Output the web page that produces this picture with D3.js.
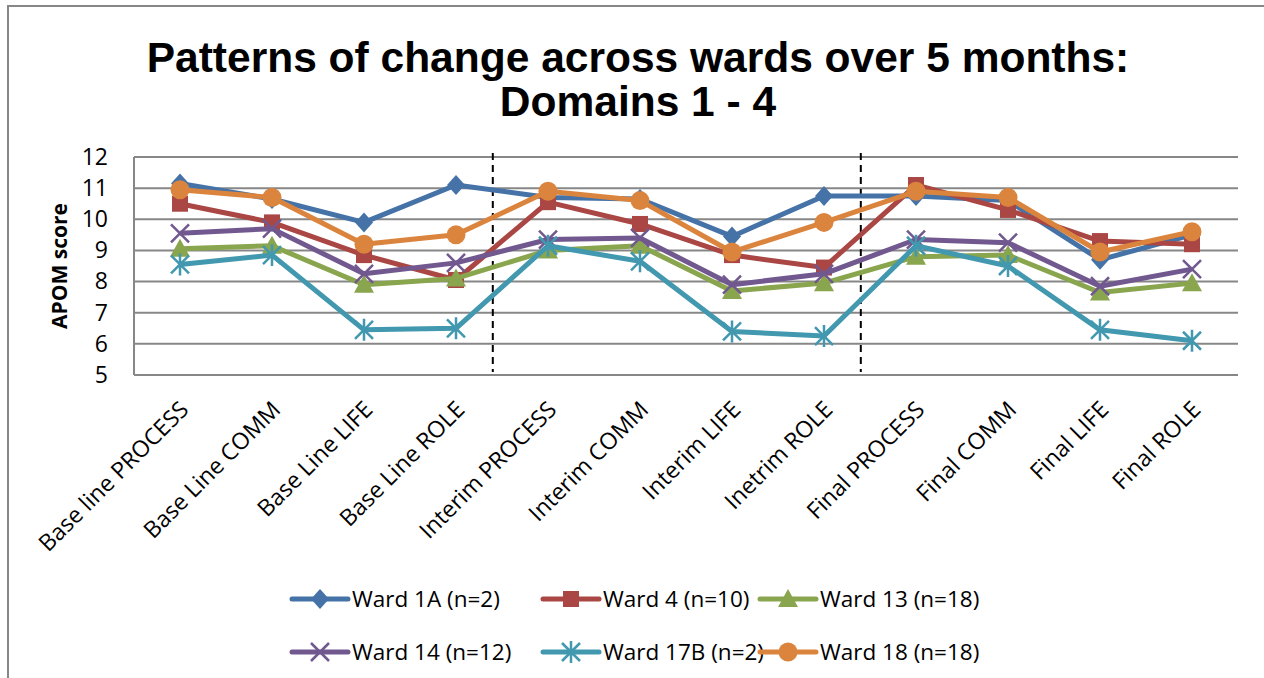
<!DOCTYPE html>
<html>
<head>
<meta charset="utf-8">
<script src="https://cdn.jsdelivr.net/npm/d3@7"></script>
<style>
  body { margin: 0; background: #fff; }
  svg { display: block; }
</style>
</head>
<body>
<div id="chart"></div>
<script>
// categories along the x axis (typo "Inetrim" is in the original)
var categories = ["Base line PROCESS", "Base Line COMM", "Base Line LIFE", "Base Line ROLE",
    "Interim PROCESS", "Interim COMM", "Interim LIFE", "Inetrim ROLE",
    "Final PROCESS", "Final COMM", "Final LIFE", "Final ROLE"];

var ward1A  = [11.15, 10.65, 9.9, 11.1, 10.7, 10.65, 9.45, 10.75, 10.75, 10.6, 8.7, 9.5];
var ward4   = [10.5, 9.9, 8.85, 8.05, 10.55, 9.85, 8.85, 8.45, 11.1, 10.3, 9.3, 9.2];
var ward13  = [9.05, 9.15, 7.9, 8.1, 9.0, 9.15, 7.7, 7.95, 8.8, 8.85, 7.65, 7.95];
var ward14  = [9.55, 9.7, 8.25, 8.6, 9.35, 9.4, 7.9, 8.25, 9.35, 9.25, 7.85, 8.4];
var ward17B = [8.55, 8.85, 6.45, 6.5, 9.15, 8.65, 6.4, 6.25, 9.15, 8.5, 6.45, 6.1];
var ward18  = [10.95, 10.7, 9.2, 9.5, 10.9, 10.6, 8.95, 9.9, 10.9, 10.7, 8.95, 9.6];

var seriesNames = ["Ward 1A (n=2)", "Ward 4 (n=10)", "Ward 13 (n=18)",
    "Ward 14 (n=12)", "Ward 17B (n=2)", "Ward 18 (n=18)"];

var yTicks = [5, 6, 7, 8, 9, 10, 11, 12];

// dashed separators sit after these categories
var dividerAfter = ["Base Line ROLE", "Inetrim ROLE"];

//////////////////////
// layout / styling //
//////////////////////

var width = 1264,
    height = 678;

var plot = { left: 134, right: 1238, top: 157, bottom: 375 };

var colors = ['#4572A7', '#AA4643', '#89A54E', '#71588F', '#4198AF', '#DB843D'];
var markers = ['diamond', 'square', 'triangle', 'x', 'star', 'circle'];
var gridColor = '#878787';
var textFont = "'Open Sans', sans-serif";

var series = [ward1A, ward4, ward13, ward14, ward17B, ward18].map(function(vals, i) {
    return { name: seriesNames[i], values: vals, color: colors[i], marker: markers[i] };
});

var svg = d3.select("#chart").append("svg")
    .attr("width", width)
    .attr("height", height);

// outer chart frame (runs off the right/bottom edge in the original)
svg.append('rect')
    .attr('x', 8)
    .attr('y', 6)
    .attr('width', width + 20)
    .attr('height', height + 20)
    .attr('fill', 'none')
    .attr('stroke', gridColor)
    .attr('stroke-width', 2);

// title
var title = svg.append('text')
    .attr('text-anchor', 'middle')
    .style('font-family', "'Liberation Sans', Arial, sans-serif")
    .style('font-weight', 'bold')
    .style('font-size', '42.5px')
    .attr('fill', '#000');
title.append('tspan').attr('x', 638).attr('y', 72)
    .text('Patterns of change across wards over 5 months:');
title.append('tspan').attr('x', 638).attr('y', 116)
    .text('Domains 1 - 4');

////////////
// scales //
////////////

var x = d3.scaleBand()
    .domain(categories)
    .range([plot.left, plot.right]);

var y = d3.scaleLinear()
    .domain([5, 12])
    .range([plot.bottom, plot.top]);

function cx(c) { return x(c) + x.bandwidth() / 2; }

// gridlines
svg.append('g')
    .selectAll('line')
    .data(yTicks)
    .enter()
    .append('line')
    .attr('x1', plot.left)
    .attr('x2', plot.right)
    .attr('y1', function(d) { return y(d); })
    .attr('y2', function(d) { return y(d); })
    .attr('stroke', gridColor)
    .attr('stroke-width', 2);

// left axis line
svg.append('line')
    .attr('x1', plot.left).attr('x2', plot.left)
    .attr('y1', plot.top).attr('y2', plot.bottom)
    .attr('stroke', gridColor)
    .attr('stroke-width', 2);

// y tick labels
var yAxis = d3.axisLeft(y).tickValues(yTicks).tickFormat(d3.format('d'))
    .tickSize(0).tickPadding(26);
var yg = svg.append('g')
    .attr('transform', 'translate(' + plot.left + ',0)')
    .call(yAxis);
yg.select('.domain').remove();
yg.selectAll('text')
    .style('font-family', textFont)
    .style('font-size', '23px')
    .attr('fill', '#000');

// y axis title
svg.append('text')
    .attr('transform', 'translate(67,' + (plot.top + plot.bottom) / 2 + ') rotate(-90)')
    .attr('text-anchor', 'middle')
    .style('font-family', textFont)
    .style('font-weight', 'bold')
    .style('font-size', '21px')
    .text('APOM score');

// x labels, rotated 45deg
var xAxis = d3.axisBottom(x).tickSize(0).tickPadding(0);
var xg = svg.append('g')
    .attr('transform', 'translate(0,' + plot.bottom + ')')
    .call(xAxis);
xg.select('.domain').remove();
xg.selectAll('text')
    .style('font-family', textFont)
    .style('font-size', '23px')
    .attr('fill', '#000')
    .attr('text-anchor', 'end')
    .attr('dy', 0)
    .attr('y', 0)
    .attr('transform', 'translate(10,36) rotate(-45)');

// dashed dividers between the time points
svg.append('g')
    .selectAll('line')
    .data(dividerAfter)
    .enter()
    .append('line')
    .attr('x1', function(d) { return cx(d) + x.step() * 0.4; })
    .attr('x2', function(d) { return cx(d) + x.step() * 0.4; })
    .attr('y1', plot.top - 4)
    .attr('y2', plot.bottom - 3)
    .attr('stroke', '#000')
    .attr('stroke-width', 2)
    .attr('stroke-dasharray', '7,5');

/////////////////////
// lines + markers //
/////////////////////

function drawMarker(g, type, color) {
    if (type === 'diamond') {
        g.append('path').attr('d', 'M0,-10L9,0L0,10L-9,0Z').attr('fill', color);
    } else if (type === 'square') {
        g.append('rect').attr('x', -8).attr('y', -8).attr('width', 16).attr('height', 16).attr('fill', color);
    } else if (type === 'triangle') {
        g.append('path').attr('d', 'M0,-10L10,8L-10,8Z').attr('fill', color);
    } else if (type === 'circle') {
        g.append('circle').attr('r', 9.5).attr('fill', color);
    } else if (type === 'x') {
        g.append('path').attr('d', 'M-9,-9L9,9M-9,9L9,-9')
            .attr('stroke', color).attr('stroke-width', 2.5).attr('fill', 'none');
    } else if (type === 'star') {
        g.append('path').attr('d', 'M-9,-9L9,9M-9,9L9,-9M0,-11L0,11')
            .attr('stroke', color).attr('stroke-width', 2.5).attr('fill', 'none');
    }
}

var line = d3.line()
    .x(function(d, i) { return cx(categories[i]); })
    .y(function(d) { return y(d); });

series.forEach(function(s) {
    var g = svg.append('g').attr('class', 'series');
    g.append('path')
        .datum(s.values)
        .attr('d', line)
        .attr('fill', 'none')
        .attr('stroke', s.color)
        .attr('stroke-width', 5)
        .attr('stroke-linejoin', 'round');
    s.values.forEach(function(v, i) {
        var m = g.append('g')
            .attr('transform', 'translate(' + cx(categories[i]) + ',' + y(v) + ')');
        drawMarker(m, s.marker, s.color);
    });
});

////////////
// legend //
////////////

var legendCols = [292, 543, 760],
    legendRows = [599, 652];

series.forEach(function(s, i) {
    var lx = legendCols[i % 3],
        ly = legendRows[Math.floor(i / 3)];
    var g = svg.append('g').attr('transform', 'translate(' + lx + ',' + ly + ')');
    g.append('line')
        .attr('x1', 0).attr('x2', 56)
        .attr('y1', 0).attr('y2', 0)
        .attr('stroke', s.color)
        .attr('stroke-width', 5)
        .attr('stroke-linecap', 'round');
    var m = g.append('g').attr('transform', 'translate(28,0)');
    drawMarker(m, s.marker, s.color);
    g.append('text')
        .attr('x', 60)
        .attr('y', 8)
        .style('font-family', textFont)
        .style('font-size', '22.5px')
        .attr('fill', '#000')
        .text(s.name);
});
</script>
</body>
</html>
